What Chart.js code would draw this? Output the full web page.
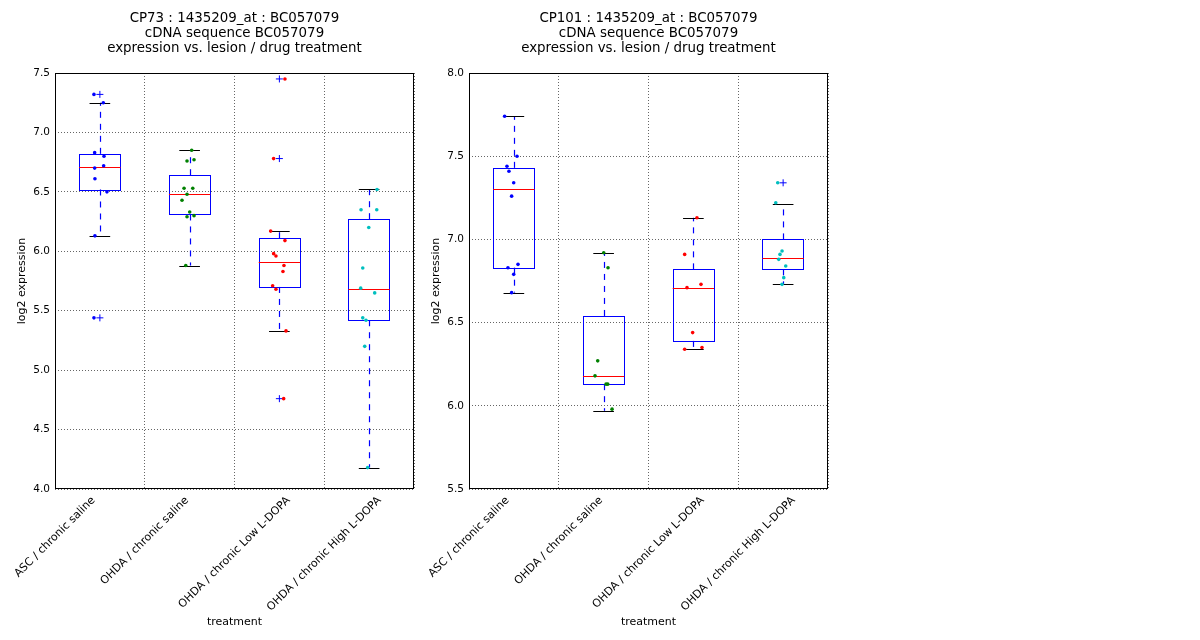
<!DOCTYPE html>
<html>
<head>
<meta charset="utf-8">
<title>CP73 / CP101 : 1435209_at : BC057079</title>
<script src="https://cdn.jsdelivr.net/npm/chart.js@4/dist/chart.umd.min.js"></script>
<style>
    body { margin: 0; background: #ffffff; }
    #wrap { position: relative; width: 1200px; height: 640px; }
    canvas { position: absolute; top: 0; }
    #leftChart { left: 0; }
    #rightChart { left: 414px; }
</style>
</head>
<body>
<div id="wrap">
    <canvas id="leftChart" width="469" height="640"></canvas>
    <canvas id="rightChart" width="469" height="640"></canvas>
</div>
<script>
// categories shared by both panels
const categories = ['ASC / chronic saline', 'OHDA / chronic saline', 'OHDA / chronic Low L-DOPA', 'OHDA / chronic High L-DOPA'];
const groupColors = ['#0000ff', '#008000', '#ff0000', '#00bfbf'];

const leftTitle = ['CP73 : 1435209_at : BC057079', 'cDNA sequence BC057079', 'expression vs. lesion / drug treatment'];
const rightTitle = ['CP101 : 1435209_at : BC057079', 'cDNA sequence BC057079', 'expression vs. lesion / drug treatment'];

// CP73 sample values per group, with horizontal jitter (in category units)
const cp73Asc = [7.32, 7.25, 6.83, 6.80, 6.72, 6.70, 6.61, 6.50, 6.13, 5.44];
const cp73AscJitter = [-0.066, 0.038, -0.058, 0.046, 0.042, -0.058, -0.055, 0.079, -0.055, -0.066];
const cp73Saline = [6.85, 6.76, 6.77, 6.53, 6.53, 6.48, 6.43, 6.33, 6.29, 6.30, 5.88];
const cp73SalineJitter = [0.023, -0.029, 0.049, -0.062, 0.035, -0.029, -0.085, 0.001, -0.029, 0.049, -0.043];
const cp73Low = [7.45, 6.78, 6.17, 6.09, 5.98, 5.96, 5.88, 5.83, 5.71, 5.68, 5.33, 4.76];
const cp73LowJitter = [0.062, -0.064, -0.097, 0.062, -0.064, -0.038, 0.051, 0.040, -0.075, -0.038, 0.074, 0.048];
const cp73High = [6.52, 6.35, 6.35, 6.20, 5.86, 5.69, 5.65, 5.44, 5.42, 5.20, 4.18];
const cp73HighJitter = [0.088, -0.090, 0.085, -0.004, -0.071, -0.094, 0.062, -0.071, -0.035, -0.049, -0.016];

// CP73 box statistics
const cp73Q1 = [6.52, 6.31, 5.70, 5.42];
const cp73Median = [6.71, 6.48, 5.91, 5.68];
const cp73Q3 = [6.82, 6.64, 6.11, 6.27];
const cp73WhiskerLow = [6.13, 5.88, 5.33, 4.18];
const cp73WhiskerHigh = [7.25, 6.85, 6.17, 6.52];
const cp73Outliers = [[7.32, 5.44], [], [7.45, 6.78, 4.76], []];

// CP101 sample values per group
const cp101Asc = [7.74, 7.50, 7.44, 7.41, 7.34, 7.26, 6.85, 6.83, 6.79, 6.68];
const cp101AscJitter = [-0.103, 0.035, -0.077, -0.055, -0.002, -0.025, 0.046, -0.066, -0.002, -0.025];
const cp101Saline = [6.92, 6.83, 6.27, 6.18, 6.13, 6.13, 5.98];
const cp101SalineJitter = [0.001, 0.049, -0.066, -0.096, 0.027, 0.046, 0.094];
const cp101Low = [7.13, 6.91, 6.73, 6.71, 6.44, 6.34, 6.35];
const cp101LowJitter = [0.040, -0.097, 0.085, -0.071, -0.008, -0.097, 0.096];
const cp101High = [7.34, 7.22, 6.93, 6.91, 6.88, 6.84, 6.77, 6.73];
const cp101HighJitter = [-0.060, -0.082, -0.012, -0.035, -0.049, 0.029, 0.007, -0.012];

// CP101 box statistics
const cp101Q1 = [6.83, 6.13, 6.39, 6.82];
const cp101Median = [7.30, 6.18, 6.71, 6.89];
const cp101Q3 = [7.43, 6.54, 6.82, 7.00];
const cp101WhiskerLow = [6.68, 5.97, 6.34, 6.73];
const cp101WhiskerHigh = [7.74, 6.92, 7.13, 7.21];
const cp101Outliers = [[], [], [], [7.34]];

const FONT = 'DejaVu Sans';

/**
 * Draws frame, box plots, the three-line title and the rotated category
 * labels, all placed through the chart's own scales.
 */
const boxPlotPlugin = {
    id: 'boxPlot',
    beforeDatasetsDraw(chart, args, opts) {
        const ctx = chart.ctx;
        const xs = chart.scales.xj;
        const ys = chart.scales.y;
        const area = chart.chartArea;
        const halfBox = 0.23;
        const halfCap = 0.115;

        ctx.save();
        // axes frame
        ctx.strokeStyle = '#000000';
        ctx.lineWidth = 1;
        ctx.strokeRect(area.left + 0.5, area.top + 0.5, area.right - area.left - 1, area.bottom - area.top - 1);

        for (let i = 0; i < opts.q1.length; i++) {
            const xc = Math.round(xs.getPixelForValue(i)) + 0.5;
            const xl = xs.getPixelForValue(i - halfBox);
            const xr = xs.getPixelForValue(i + halfBox);
            const cl = xs.getPixelForValue(i - halfCap);
            const cr = xs.getPixelForValue(i + halfCap);
            const yQ1 = ys.getPixelForValue(opts.q1[i]);
            const yQ3 = ys.getPixelForValue(opts.q3[i]);
            const yMed = ys.getPixelForValue(opts.median[i]);
            const yLo = ys.getPixelForValue(opts.whiskerLow[i]);
            const yHi = ys.getPixelForValue(opts.whiskerHigh[i]);

            // dashed whiskers (matplotlib classic 6-on / 6-off)
            ctx.strokeStyle = '#0000ff';
            ctx.lineWidth = 1.2;
            ctx.setLineDash([6, 6]);
            ctx.beginPath();
            ctx.moveTo(xc, yQ3);
            ctx.lineTo(xc, yHi);
            ctx.stroke();
            ctx.beginPath();
            ctx.moveTo(xc, yQ1);
            ctx.lineTo(xc, yLo);
            ctx.stroke();
            ctx.setLineDash([]);
            ctx.lineWidth = 1;

            // caps
            ctx.strokeStyle = '#000000';
            ctx.beginPath();
            ctx.moveTo(cl, Math.round(yHi) + 0.5);
            ctx.lineTo(cr, Math.round(yHi) + 0.5);
            ctx.moveTo(cl, Math.round(yLo) + 0.5);
            ctx.lineTo(cr, Math.round(yLo) + 0.5);
            ctx.stroke();

            // box
            ctx.strokeStyle = '#0000ff';
            ctx.strokeRect(Math.round(xl) + 0.5, Math.round(yQ3) + 0.5, Math.round(xr - xl), Math.round(yQ1 - yQ3));

            // median
            ctx.strokeStyle = '#ff0000';
            ctx.beginPath();
            ctx.moveTo(xl, Math.round(yMed) + 0.5);
            ctx.lineTo(xr, Math.round(yMed) + 0.5);
            ctx.stroke();
        }

        // title, centred over the plot area
        ctx.fillStyle = '#000000';
        ctx.font = '13.4px "' + FONT + '"';
        ctx.textAlign = 'center';
        ctx.textBaseline = 'middle';
        const cx = (area.left + area.right) / 2;
        opts.title.forEach((line, k) => ctx.fillText(line, cx, 19 + k * 15));
        ctx.restore();
    },
    afterDraw(chart) {
        // category labels: rotated 45deg, their bounding box centred on the
        // boundary to the left of each box (as the reference does)
        const ctx = chart.ctx;
        const xs = chart.scales.xj;
        const area = chart.chartArea;
        const textHeight = 13;
        ctx.save();
        ctx.fillStyle = '#000000';
        ctx.font = '11px "' + FONT + '"';
        ctx.textAlign = 'center';
        ctx.textBaseline = 'middle';
        categories.forEach((label, i) => {
            const w = ctx.measureText(label).width;
            const half = (w + textHeight) / (2 * Math.SQRT2);
            ctx.save();
            ctx.translate(xs.getPixelForValue(i - 0.5), area.bottom + 5 + half);
            ctx.rotate(-Math.PI / 4);
            ctx.fillText(label, 0, 0);
            ctx.restore();
        });
        ctx.restore();
    }
};

/**
 * Builds the scatter datasets (jittered samples + outlier crosses).
 */
function buildDatasets(groups, jitters, outliers) {
    const datasets = [];
    groups.forEach((values, i) => {
        datasets.push({
            label: categories[i],
            xAxisID: 'xj',
            data: values.map((v, k) => ({ x: i + jitters[i][k], y: v })),
            pointRadius: 1.8,
            pointBorderWidth: 0,
            pointBackgroundColor: groupColors[i],
            pointBorderColor: groupColors[i]
        });
    });
    datasets.push({
        label: 'outliers',
        xAxisID: 'xj',
        data: outliers.flatMap((vals, i) => vals.map(v => ({ x: i, y: v }))),
        pointStyle: 'cross',
        pointRadius: 3.5,
        pointBorderWidth: 1,
        pointBorderColor: '#0000ff',
        pointBackgroundColor: '#0000ff'
    });
    return datasets;
}

function makeChart(canvasId, title, yMin, yMax, datasets, stats) {
    const ctx = document.getElementById(canvasId).getContext('2d');
    return new Chart(ctx, {
        type: 'scatter',
        data: { datasets: datasets },
        plugins: [boxPlotPlugin],
        options: {
            responsive: false,
            animation: false,
            devicePixelRatio: 1,
            layout: { padding: { left: 0, right: 55, top: 73, bottom: 0 } },
            plugins: {
                legend: { display: false },
                tooltip: { enabled: false },
                boxPlot: Object.assign({ title: title }, stats)
            },
            scales: {
                x: {
                    type: 'category',
                    labels: categories,
                    offset: true,
                    position: 'bottom',
                    grid: { offset: true, drawTicks: false, color: '#666666', lineWidth: 1 },
                    border: { display: false, dash: [1, 2] },
                    ticks: { display: false, autoSkip: false },
                    title: {
                        display: true,
                        text: 'treatment',
                        color: '#000000',
                        padding: 11,
                        font: { family: FONT, size: 11 }
                    },
                    afterFit(scale) {
                        scale.height = 151;
                        scale.paddingLeft = 0;
                        scale.paddingRight = 0;
                    }
                },
                xj: {
                    type: 'linear',
                    axis: 'x',
                    display: false,
                    min: -0.5,
                    max: 3.5
                },
                y: {
                    type: 'linear',
                    min: yMin,
                    max: yMax,
                    grid: { drawTicks: false, color: '#666666', lineWidth: 1 },
                    border: { display: false, dash: [1, 2] },
                    ticks: {
                        stepSize: 0.5,
                        padding: 5,
                        color: '#000000',
                        font: { family: FONT, size: 10.5 },
                        callback: value => value.toFixed(1)
                    },
                    title: {
                        display: true,
                        text: 'log2 expression',
                        color: '#000000',
                        padding: 16,
                        font: { family: FONT, size: 11 }
                    },
                    afterFit(scale) {
                        scale.width = 55;
                        scale.paddingTop = 0;
                        scale.paddingBottom = 0;
                    }
                }
            }
        }
    });
}

makeChart('leftChart', leftTitle, 4.0, 7.5,
    buildDatasets([cp73Asc, cp73Saline, cp73Low, cp73High],
        [cp73AscJitter, cp73SalineJitter, cp73LowJitter, cp73HighJitter], cp73Outliers),
    { q1: cp73Q1, median: cp73Median, q3: cp73Q3, whiskerLow: cp73WhiskerLow, whiskerHigh: cp73WhiskerHigh });

makeChart('rightChart', rightTitle, 5.5, 8.0,
    buildDatasets([cp101Asc, cp101Saline, cp101Low, cp101High],
        [cp101AscJitter, cp101SalineJitter, cp101LowJitter, cp101HighJitter], cp101Outliers),
    { q1: cp101Q1, median: cp101Median, q3: cp101Q3, whiskerLow: cp101WhiskerLow, whiskerHigh: cp101WhiskerHigh });
</script>
</body>
</html>
